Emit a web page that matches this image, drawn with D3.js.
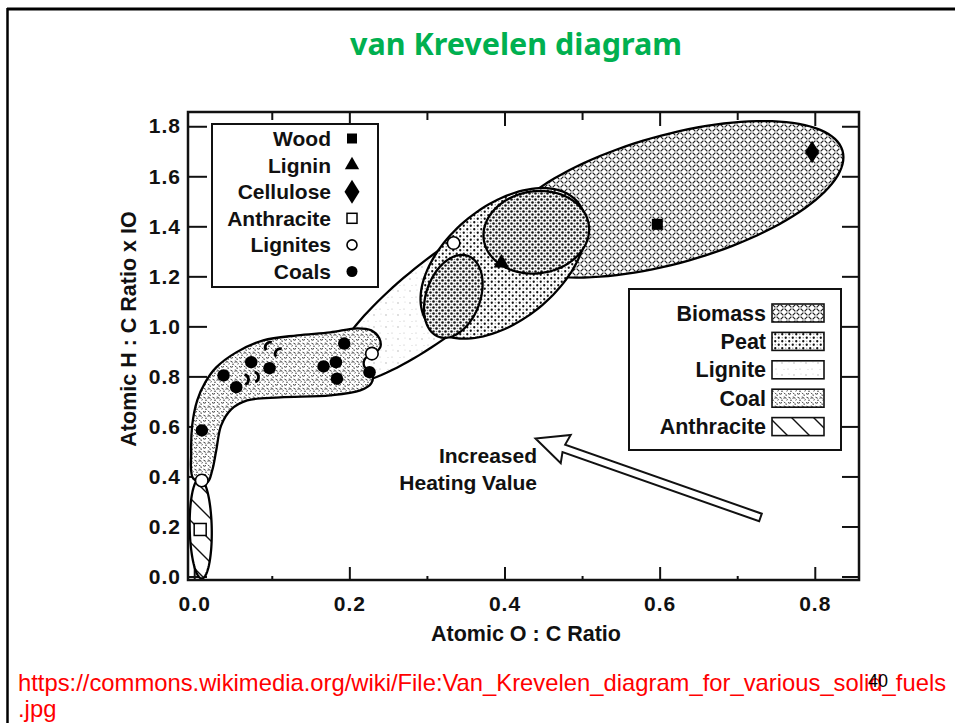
<!DOCTYPE html>
<html>
<head>
<meta charset="utf-8">
<script src="https://cdn.jsdelivr.net/npm/d3@7/dist/d3.min.js"></script>
<style>
  body { margin: 0; background: #fff; }
  svg { display: block; }
</style>
</head>
<body>
<svg id="chart" width="955" height="723"></svg>
<script>
// ---- values (x = atomic O:C, y = atomic H:C) ----
const xMajor = [0, 0.2, 0.4, 0.6, 0.8]
const xMinor = [0.1, 0.3, 0.5, 0.7]
const yMajor = [0, 0.2, 0.4, 0.6, 0.8, 1.0, 1.2, 1.4, 1.6, 1.8]

const wood = [[0.597, 1.408]]
const lignin = [[0.396, 1.253]]
const cellulose = [[0.7965, 1.697]]
const anthracite = [[0.0077, 0.188]]
const lignites = [[0.3344, 1.333], [0.2291, 0.891], [0.0097, 0.384]]
const coals = [[0.0099, 0.584], [0.0378, 0.804], [0.0542, 0.757], [0.0735, 0.857], [0.0971, 0.833],
               [0.1667, 0.840], [0.1827, 0.857], [0.184, 0.791], [0.1934, 0.931], [0.226, 0.817]]
// badly printed coal dots (only an arc shows)
const coalsFaintRight = [[0.0636, 0.787], [0.0765, 0.797]]
const coalsFaintLeft = [[0.098, 0.917], [0.1109, 0.891]]

// regions: ellipses as [centre, end of one half-diameter, end of the conjugate one]
const biomassRegion = [[0.6138, 1.508], [0.8369, 1.676], [0.6138, 1.244]]
const peatRegion = [[0.3985, 1.252], [0.4952, 1.4936], [0.4437, 1.0724]]
const ligniteRegion = [[0.3211, 1.132], [0.4633, 1.4768], [0.3505, 1.0152]]
const peatCoreLow = [[0.334, 1.12], [0.3529, 1.2816], [0.3667, 1.0832]]
const peatCoreHigh = [[0.441, 1.376], [0.5087, 1.4056], [0.4484, 1.2136]]
const anthraciteRegion = [[0.0084, 0.192], [0.0071, 0.392], [0.0226, 0.192]]
// coal band outline
const coalRegion = [[-0.0013, 0.392], [-0.0039, 0.496], [-0.0026, 0.604], [0.0039, 0.704], [0.0142, 0.776],
  [0.0284, 0.836], [0.0542, 0.896], [0.089, 0.944], [0.1328, 0.964], [0.1754, 0.976], [0.2102, 0.992],
  [0.2282, 0.984], [0.2386, 0.952], [0.2398, 0.916], [0.2295, 0.888], [0.2205, 0.872], [0.2192, 0.84],
  [0.2295, 0.812], [0.2282, 0.772], [0.2141, 0.744], [0.1754, 0.724], [0.1109, 0.716], [0.0683, 0.704],
  [0.0477, 0.668], [0.0348, 0.604], [0.0284, 0.504], [0.0232, 0.424], [0.0168, 0.376]]

const arrowTip = [0.44, 0.552]
const arrowTail = [0.73, 0.236]

const markerNames = ['Wood', 'Lignin', 'Cellulose', 'Anthracite', 'Lignites', 'Coals']
const regionNames = ['Biomass', 'Peat', 'Lignite', 'Coal', 'Anthracite']

const FONT = '"Liberation Sans", Arial, Helvetica, sans-serif'

const svg = d3.select('#chart')
const defs = svg.append('defs')

const x = d3.scaleLinear().domain([-0.008, 0.857]).range([188, 859])
const y = d3.scaleLinear().domain([-0.014, 1.857]).range([580, 112])

// ---- fill patterns ----
function pattern(id, w, h){
    const p = defs.append('pattern').attr('id', id)
        .attr('patternUnits', 'userSpaceOnUse').attr('width', w).attr('height', h)
    p.append('rect').attr('width', w).attr('height', h).attr('fill', '#fff')
    return p
}
let p = pattern('pBio', 8, 8)
p.append('path').attr('d', 'M0.6,3.4L3.4,0.6M4.6,0.6L7.4,3.4M0.6,4.6L3.4,7.4M4.6,7.4L7.4,4.6')
    .attr('stroke', '#222').attr('stroke-width', 1.25).attr('fill', 'none')

p = pattern('pPeat', 7, 7)
p.append('circle').attr('cx', 1.75).attr('cy', 1.75).attr('r', 1.15).attr('fill', '#111')
p.append('circle').attr('cx', 5.25).attr('cy', 5.25).attr('r', 1.15).attr('fill', '#111')
p.append('circle').attr('cx', 5.25).attr('cy', 1.75).attr('r', 0.7).attr('fill', '#888')
p.append('circle').attr('cx', 1.75).attr('cy', 5.25).attr('r', 0.7).attr('fill', '#999')

p = pattern('pDense', 6, 6)
p.append('circle').attr('cx', 1.5).attr('cy', 1.5).attr('r', 1.3).attr('fill', '#111')
p.append('circle').attr('cx', 4.5).attr('cy', 4.5).attr('r', 1.3).attr('fill', '#111')
p.append('circle').attr('cx', 4.5).attr('cy', 1.5).attr('r', 0.8).attr('fill', '#777')
p.append('circle').attr('cx', 1.5).attr('cy', 4.5).attr('r', 0.8).attr('fill', '#888')

p = pattern('pLig', 12, 12)
p.append('circle').attr('cx', 2).attr('cy', 3).attr('r', 0.7).attr('fill', '#aaa')
p.append('circle').attr('cx', 8).attr('cy', 9).attr('r', 0.6).attr('fill', '#bbb')
p.append('circle').attr('cx', 9).attr('cy', 2).attr('r', 0.5).attr('fill', '#ccc')
p.append('circle').attr('cx', 4).attr('cy', 9.5).attr('r', 0.5).attr('fill', '#ccc')

p = pattern('pCoal', 9, 9)
p.append('path').attr('d', 'M0.5,2.3q1.5,-1.3 3,0M5,6.5q1.5,1.3 3,0M5.5,1.2l2.2,1.1M1,5.8l1.6,1.6M3.5,4.2l1.2,-0.6')
    .attr('stroke', '#333').attr('stroke-width', 1).attr('fill', 'none')
p.append('circle').attr('cx', 8).attr('cy', 4.2).attr('r', 0.8).attr('fill', '#444')
p.append('circle').attr('cx', 3.2).attr('cy', 8.2).attr('r', 0.7).attr('fill', '#555')
p.append('circle').attr('cx', 1.2).attr('cy', 0.8).attr('r', 0.6).attr('fill', '#777')

p = pattern('pAnth', 22, 22)
p.append('path').attr('d', 'M0,0L22,22M-2,20L2,24M20,-2L24,2')
    .attr('stroke', '#111').attr('stroke-width', 1.4)

// ---- slide frame and title ----
svg.append('line').attr('x1', 7).attr('x2', 955).attr('y1', 9).attr('y2', 9)
    .attr('stroke', '#000').attr('stroke-width', 3)
svg.append('line').attr('x1', 7.5).attr('x2', 7.5).attr('y1', 8).attr('y2', 723)
    .attr('stroke', '#000').attr('stroke-width', 2.5)

svg.append('text').attr('x', 516).attr('y', 55).attr('text-anchor', 'middle')
    .attr('font-family', '"Noto Sans", "DejaVu Sans", sans-serif').attr('font-weight', 'bold')
    .attr('font-size', 30.5).attr('fill', '#00b050').text('van Krevelen diagram')

// ---- ticks (under the regions, like in the scan) ----
function styleAxis(g){
    g.select('.domain').remove()
    g.selectAll('.tick line').attr('stroke', '#111').attr('stroke-width', 2)
    g.selectAll('.tick text').attr('fill', '#111')
}
const axisFont = g => g.attr('font-family', FONT).attr('font-weight', 'bold').attr('font-size', 21)

svg.append('g').attr('transform', `translate(0,${y.range()[0]})`)
    .call(d3.axisBottom(x).tickValues(xMajor).tickSize(-13).tickPadding(16).tickFormat(d3.format('.1f')))
    .call(axisFont).call(styleAxis)
svg.append('g').attr('transform', `translate(0,${y.range()[0]})`)
    .call(d3.axisBottom(x).tickValues(xMinor).tickSize(-4).tickFormat('')).call(styleAxis)
svg.append('g').attr('transform', `translate(0,${y.range()[1]})`)
    .call(d3.axisTop(x).tickValues(xMajor.slice(1)).tickSize(-14).tickFormat('')).call(styleAxis)
svg.append('g').attr('transform', `translate(0,${y.range()[1]})`)
    .call(d3.axisTop(x).tickValues(xMinor).tickSize(-8).tickFormat('')).call(styleAxis)
svg.append('g').attr('transform', `translate(${x.range()[0]},0)`)
    .call(d3.axisLeft(y).tickValues(yMajor).tickSize(-19).tickPadding(7).tickFormat(d3.format('.1f')))
    .call(axisFont).call(styleAxis)
svg.append('g').attr('transform', `translate(${x.range()[1]},0)`)
    .call(d3.axisRight(y).tickValues(yMajor).tickSize(-17).tickFormat('')).call(styleAxis)

svg.selectAll('.tick text').attr('letter-spacing', 1)

// ---- regions ----
function ellipsePts(e){
    const [c, a, b] = e
    return d3.range(120).map(i => {
        const t = i / 120 * 2 * Math.PI
        return [c[0] + (a[0] - c[0]) * Math.cos(t) + (b[0] - c[0]) * Math.sin(t),
                c[1] + (a[1] - c[1]) * Math.cos(t) + (b[1] - c[1]) * Math.sin(t)]
    })
}
const closedLine = d3.line().x(d => x(d[0])).y(d => y(d[1])).curve(d3.curveLinearClosed)
const smoothLine = d3.line().x(d => x(d[0])).y(d => y(d[1])).curve(d3.curveCatmullRomClosed.alpha(0.5))

const regions = svg.append('g').attr('stroke', '#000').attr('stroke-width', 2.3)
regions.append('path').attr('d', closedLine(ellipsePts(ligniteRegion))).attr('fill', 'url(#pLig)')
regions.append('path').attr('d', closedLine(ellipsePts(biomassRegion))).attr('fill', 'url(#pBio)')
regions.append('path').attr('d', closedLine(ellipsePts(peatRegion))).attr('fill', 'url(#pPeat)')
regions.append('path').attr('d', closedLine(ellipsePts(peatCoreLow))).attr('fill', 'url(#pDense)')
regions.append('path').attr('d', closedLine(ellipsePts(peatCoreHigh))).attr('fill', 'url(#pDense)')
regions.append('path').attr('d', smoothLine(coalRegion)).attr('fill', 'url(#pCoal)')
regions.append('path').attr('d', closedLine(ellipsePts(anthraciteRegion))).attr('fill', 'url(#pAnth)')

// ---- frame ----
svg.append('rect').attr('x', x.range()[0]).attr('y', y.range()[1])
    .attr('width', x.range()[1] - x.range()[0]).attr('height', y.range()[0] - y.range()[1])
    .attr('fill', 'none').attr('stroke', '#111').attr('stroke-width', 2.5)

// ---- markers ----
const marks = svg.append('g')
const diamond = s => `M0,${-s * 0.8}L${s * 0.5},0L0,${s * 0.8}L${-s * 0.5},0Z`
const markerDraw = {
    Wood: (g, s) => g.append('path').attr('d', d3.symbol(d3.symbolSquare, s * s)()).attr('fill', '#000'),
    Lignin: (g, s) => g.append('path').attr('d', d3.symbol(d3.symbolTriangle, s * s * 0.62)()).attr('fill', '#000'),
    Cellulose: (g, s) => g.append('path').attr('d', diamond(s)).attr('fill', '#000'),
    Anthracite: (g, s) => g.append('rect').attr('x', -s / 2).attr('y', -s / 2).attr('width', s).attr('height', s)
        .attr('fill', '#fff').attr('stroke', '#000').attr('stroke-width', 1.5),
    Lignites: (g, s) => g.append('circle').attr('r', s / 2).attr('fill', '#fff').attr('stroke', '#000').attr('stroke-width', 1.6),
    Coals: (g, s) => g.append('circle').attr('r', s / 2).attr('fill', '#000')
}
function plot(data, name, size){
    data.forEach(d => {
        const g = marks.append('g').attr('transform', `translate(${x(d[0])},${y(d[1])})`)
        markerDraw[name](g, size)
    })
}
plot(wood, 'Wood', 11)
plot(lignin, 'Lignin', 13)
plot(cellulose, 'Cellulose', 14)
plot(anthracite, 'Anthracite', 12)
plot(lignites, 'Lignites', 12.5)
plot(coals, 'Coals', 12.5)

const crescent = (a0, a1) => d3.arc().innerRadius(3.6).outerRadius(6.4).startAngle(a0).endAngle(a1)()
coalsFaintRight.forEach(d => marks.append('path').attr('transform', `translate(${x(d[0])},${y(d[1])})`)
    .attr('d', crescent(0.2, 2.8)).attr('fill', '#000'))
coalsFaintLeft.forEach(d => marks.append('path').attr('transform', `translate(${x(d[0])},${y(d[1])})`)
    .attr('d', crescent(-2.2, 0.3)).attr('fill', '#000'))

// ---- legend: fuels ----
const leg1 = svg.append('g')
leg1.append('rect').attr('x', 212).attr('y', 124).attr('width', 166).attr('height', 163)
    .attr('fill', '#fff').attr('stroke', '#111').attr('stroke-width', 2)
markerNames.forEach((n, i) => {
    const cy = 138.5 + i * 26.6
    leg1.append('text').attr('x', 331).attr('y', cy + 7.5).attr('text-anchor', 'end')
        .attr('font-family', FONT).attr('font-weight', 'bold').attr('font-size', 21).attr('fill', '#111').text(n)
    const g = leg1.append('g').attr('transform', `translate(352,${cy})`)
    const s = {Wood: 10, Lignin: 12, Cellulose: 15, Anthracite: 10, Lignites: 10, Coals: 11}[n]
    markerDraw[n](g, s)
})

// ---- legend: regions ----
const fills = ['url(#pBio)', 'url(#pPeat)', 'url(#pLig)', 'url(#pCoal)', 'url(#pAnth)']
const leg2 = svg.append('g')
leg2.append('rect').attr('x', 629).attr('y', 289).attr('width', 212).attr('height', 161)
    .attr('fill', '#fff').attr('stroke', '#111').attr('stroke-width', 2)
regionNames.forEach((n, i) => {
    const cy = 313 + i * 28.4
    leg2.append('text').attr('x', 766).attr('y', cy + 7.5).attr('text-anchor', 'end')
        .attr('font-family', FONT).attr('font-weight', 'bold').attr('font-size', 21.5).attr('fill', '#111').text(n)
    leg2.append('rect').attr('x', 772).attr('y', cy - 9).attr('width', 52).attr('height', 18)
        .attr('fill', fills[i]).attr('stroke', '#111').attr('stroke-width', 1.6)
})

// ---- arrow ----
const T = [x(arrowTip[0]), y(arrowTip[1])], E = [x(arrowTail[0]), y(arrowTail[1])]
const len = Math.hypot(E[0] - T[0], E[1] - T[1])
const d = [(E[0] - T[0]) / len, (E[1] - T[1]) / len], nrm = [-d[1], d[0]]
const at = (base, along, side) => [base[0] + d[0] * along + nrm[0] * side, base[1] + d[1] * along + nrm[1] * side]
const arrowPts = [T, at(T, 32, 15), at(T, 30, 4), at(E, 0, 4), at(E, 0, -4), at(T, 30, -4), at(T, 32, -15)]
svg.append('path').attr('d', 'M' + arrowPts.map(q => q.join(',')).join('L') + 'Z')
    .attr('fill', '#fff').attr('stroke', '#111').attr('stroke-width', 2).attr('stroke-linejoin', 'miter')

svg.append('text').attr('x', 537).attr('y', 463).attr('text-anchor', 'end')
    .attr('font-family', FONT).attr('font-weight', 'bold').attr('font-size', 21).attr('fill', '#111').text('Increased')
svg.append('text').attr('x', 537).attr('y', 490).attr('text-anchor', 'end')
    .attr('font-family', FONT).attr('font-weight', 'bold').attr('font-size', 21).attr('fill', '#111').text('Heating Value')

// ---- axis titles ----
svg.append('text').attr('x', 526).attr('y', 641).attr('text-anchor', 'middle')
    .attr('font-family', FONT).attr('font-weight', 'bold').attr('font-size', 21.5).attr('fill', '#111')
    .text('Atomic O : C Ratio')
svg.append('text').attr('transform', 'translate(136,329) rotate(-90)').attr('text-anchor', 'middle')
    .attr('font-family', FONT).attr('font-weight', 'bold').attr('font-size', 21.5).attr('fill', '#111')
    .text('Atomic H : C Ratio x IO')

// ---- source line and slide number (the number sits on the URL, as in the slide) ----
svg.append('text').attr('x', 18).attr('y', 691).attr('font-family', FONT).attr('font-size', 23.8).attr('fill', '#ff0000')
    .text('https://commons.wikimedia.org/wiki/File:Van_Krevelen_diagram_for_various_solid_fuels')
svg.append('text').attr('x', 18).attr('y', 717).attr('font-family', FONT).attr('font-size', 23.8).attr('fill', '#ff0000')
    .text('.jpg')
svg.append('text').attr('x', 868).attr('y', 687).attr('font-family', FONT).attr('font-size', 18).attr('fill', '#000')
    .text('40')
</script>
</body>
</html>
